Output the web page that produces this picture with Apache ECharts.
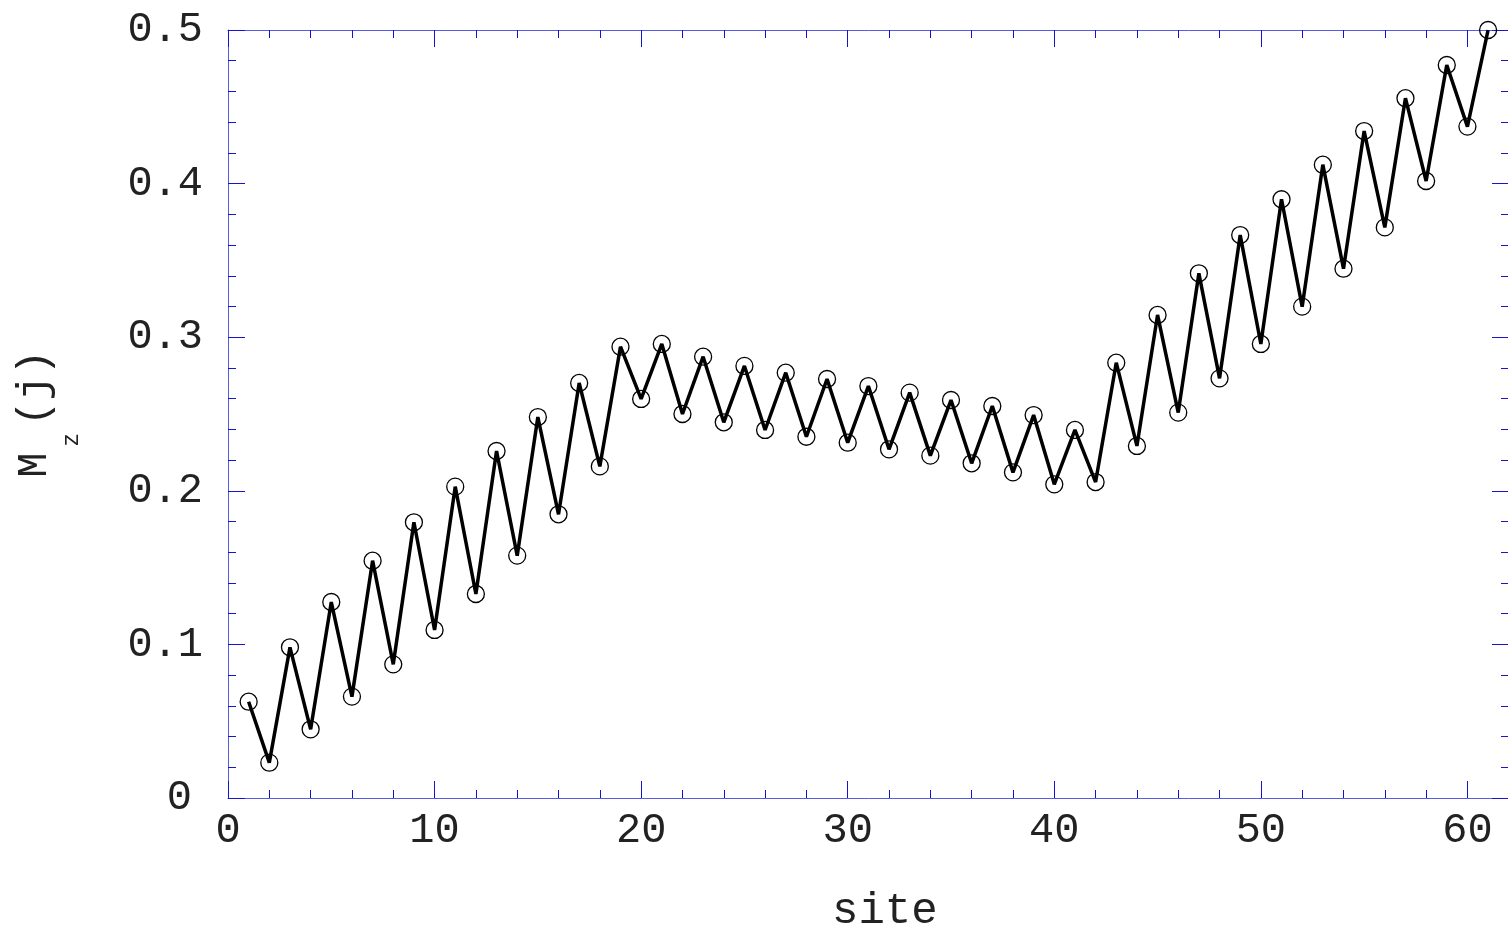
<!DOCTYPE html>
<html>
<head>
<meta charset="utf-8">
<script src="https://cdn.jsdelivr.net/npm/echarts@6/dist/echarts.min.js"></script>
<style>
  html, body { margin: 0; padding: 0; background: #fff; }
  #chart { width: 1508px; height: 931px; }
</style>
</head>
<body>
<div id="chart"></div>
<script>
// ---- data ----
const sites = [1,2,3,4,5,6,7,8,9,10,11,12,13,14,15,16,17,18,19,20,21,22,23,24,25,26,27,28,29,30,31,32,33,34,35,36,37,38,39,40,41,42,43,44,45,46,47,48,49,50,51,52,53,54,55,56,57,58,59,60,61];
const mz = [0.0627,0.0230,0.0981,0.0447,0.1276,0.0660,0.1545,0.0870,0.1795,0.1094,
            0.2027,0.1328,0.2259,0.1578,0.2480,0.1847,0.2702,0.2159,0.2938,0.2598,
            0.2956,0.2500,0.2873,0.2446,0.2813,0.2396,0.2769,0.2352,0.2728,0.2313,
            0.2682,0.2270,0.2639,0.2229,0.2591,0.2179,0.2552,0.2120,0.2493,0.2042,
            0.2396,0.2057,0.2834,0.2292,0.3145,0.2509,0.3416,0.2732,0.3665,0.2956,
            0.3898,0.3199,0.4123,0.3446,0.4342,0.3715,0.4556,0.4017,0.4772,0.4371,
            0.5000];
const xTickLabels = [0,10,20,30,40,50,60];
const yTickLabels = [0,0.1,0.2,0.3,0.4,0.5];
const xLabel = 'site';

const FONT = '"Liberation Mono", "DejaVu Sans Mono", monospace';
const TEXT = '#222';
const LINE = '#5a5ae8';
const TICK = '#1515d0';
// the x axis runs past the right edge of the page (visible part ends at ~62)
const X_MIN = 0, X_MAX = 70, Y_MIN = 0, Y_MAX = 0.5;

const majorTick = { show: true, inside: true, length: 17, lineStyle: { color: TICK, width: 1 } };
const minorTick = { show: true, splitNumber: 5, length: 8, lineStyle: { color: TICK, width: 1 } };

const data = sites.map((s, i) => [s, mz[i]]);

const option = {
  animation: false,
  backgroundColor: '#fff',
  grid: { left: 228, right: -166, top: 30, bottom: 133, containLabel: false, outerBoundsMode: 'none' },
  xAxis: [
    {
      type: 'value', position: 'bottom', min: X_MIN, max: X_MAX, interval: 10,
      axisLine: { show: true, onZero: false, lineStyle: { color: LINE, width: 1 } },
      axisTick: majorTick, minorTick: minorTick,
      splitLine: { show: false }, minorSplitLine: { show: false },
      axisLabel: {
        show: true, margin: 12, color: TEXT, fontFamily: FONT, fontSize: 42,
        formatter: v => (xTickLabels.indexOf(v) >= 0 ? String(v) : '')
      }
    },
    {
      type: 'value', position: 'top', min: X_MIN, max: X_MAX, interval: 10,
      axisLine: { show: true, onZero: false, lineStyle: { color: LINE, width: 1 } },
      axisTick: majorTick, minorTick: minorTick,
      splitLine: { show: false }, minorSplitLine: { show: false },
      axisLabel: { show: false }
    }
  ],
  yAxis: [
    {
      type: 'value', position: 'left', min: Y_MIN, max: Y_MAX, interval: 0.1,
      axisLine: { show: true, onZero: false, lineStyle: { color: LINE, width: 1 } },
      axisTick: majorTick, minorTick: minorTick,
      splitLine: { show: false }, minorSplitLine: { show: false },
      axisLabel: {
        show: true, margin: 25, color: TEXT, fontFamily: FONT, fontSize: 42,
        formatter: v => {
          const i = yTickLabels.findIndex(t => Math.abs(t - v) < 1e-9);
          if (i < 0) return '';
          return v === 0 ? '{z|0}' : v.toFixed(1);
        },
        rich: { z: { fontFamily: FONT, fontSize: 42, color: TEXT, padding: [0, 11, 0, 0] } }
      },
      name: '{m|M}{s|z}{sp| }{m|(j)}',
      nameLocation: 'middle', nameGap: 145, nameRotate: 90,
      nameTextStyle: {
        rich: {
          m: { fontFamily: FONT, fontSize: 42, color: TEXT, lineHeight: 44, verticalAlign: 'top' },
          s: { fontFamily: FONT, fontSize: 23, color: TEXT, lineHeight: 24, verticalAlign: 'bottom', padding: [0, 6, 0, 6] },
          sp: { fontSize: 4, lineHeight: 69 }
        }
      }
    },
    {
      // right-hand frame ticks, sitting at the visible right edge (x = 62)
      type: 'value', position: 'right', offset: -165, min: Y_MIN, max: Y_MAX, interval: 0.1,
      axisLine: { show: false, onZero: false },
      axisTick: majorTick, minorTick: minorTick,
      splitLine: { show: false }, minorSplitLine: { show: false },
      axisLabel: { show: false }
    }
  ],
  graphic: [{
    type: 'text', left: 832, top: 889, silent: true,
    style: { text: xLabel, fontFamily: FONT, fontSize: 44, fill: TEXT }
  }],
  series: [{
    type: 'line',
    xAxisIndex: 0, yAxisIndex: 0,
    data: data,
    symbol: 'circle', symbolSize: 17,
    clip: false,
    lineStyle: { color: '#000', width: 3.5 },
    itemStyle: { color: 'rgba(0,0,0,0)', borderColor: '#000', borderWidth: 1.3 },
    z: 5
  }]
};

const chart = echarts.init(document.getElementById('chart'), null, { renderer: 'canvas' });
chart.setOption(option);
</script>
</body>
</html>
